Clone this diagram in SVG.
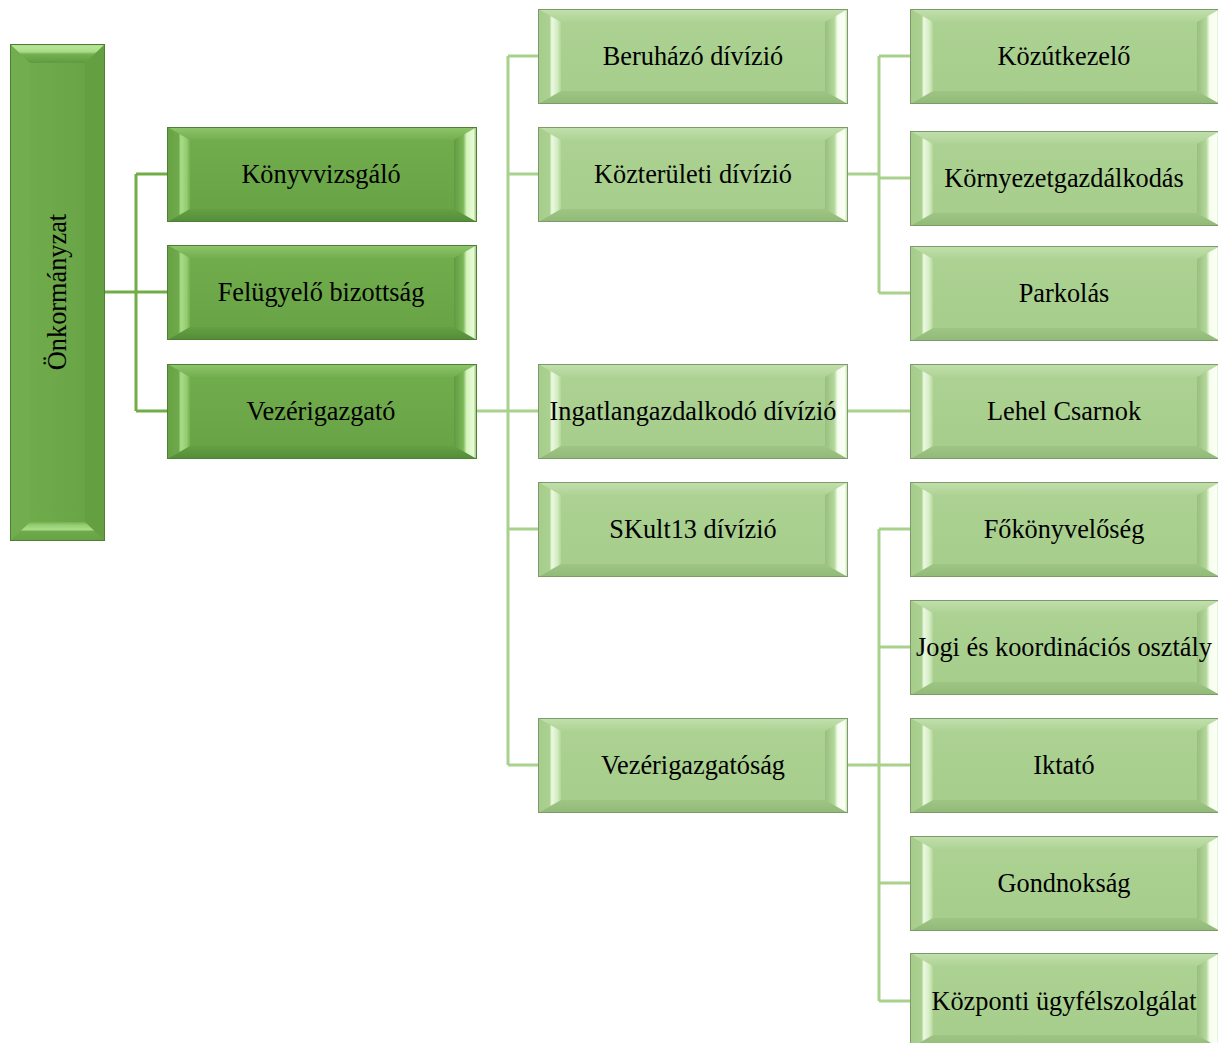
<svg xmlns="http://www.w3.org/2000/svg" xmlns:xlink="http://www.w3.org/1999/xlink" width="1218" height="1043" viewBox="0 0 1218 1043">
<style>
text{font-family:"Liberation Serif","Times New Roman",serif;font-size:26.3px;fill:#000;text-anchor:middle}
.c1{fill:none;stroke:#70AD47;stroke-width:3}
.c2{fill:none;stroke:#A9D18E;stroke-width:3}
</style>
<defs>
<linearGradient id="dFace" x1="0" y1="0" x2="0" y2="1"><stop offset="0" stop-color="#72ae4e"/><stop offset="1" stop-color="#67a244"/></linearGradient>
<linearGradient id="dTop" x1="0" y1="0" x2="0" y2="1"><stop offset="0" stop-color="#8fc66d"/><stop offset="1" stop-color="#73ae4f"/></linearGradient>
<linearGradient id="dBot" x1="0" y1="0" x2="0" y2="1"><stop offset="0" stop-color="#64a043"/><stop offset="1" stop-color="#548c39"/></linearGradient>
<linearGradient id="dLeft" x1="0" y1="0" x2="1" y2="0"><stop offset="0" stop-color="#67a145"/><stop offset="0.5" stop-color="#6ea94b"/><stop offset="0.6" stop-color="#a8de86"/><stop offset="0.85" stop-color="#95cc72"/><stop offset="1" stop-color="#75b050"/></linearGradient>
<linearGradient id="dRight" x1="0" y1="0" x2="1" y2="0"><stop offset="0" stop-color="#609b42"/><stop offset="0.4" stop-color="#7cb657"/><stop offset="0.55" stop-color="#d6f4be"/><stop offset="0.85" stop-color="#e8fbd6"/><stop offset="1" stop-color="#7cb458"/></linearGradient>
<linearGradient id="oTop" x1="0" y1="0" x2="1" y2="0"><stop offset="0" stop-color="#5f9a41"/><stop offset="0.45" stop-color="#74b050"/><stop offset="0.6" stop-color="#a9dd88"/><stop offset="0.9" stop-color="#b8e69a"/><stop offset="1" stop-color="#82bc5e"/></linearGradient>
<linearGradient id="lFace" x1="0" y1="0" x2="0" y2="1"><stop offset="0" stop-color="#add293"/><stop offset="1" stop-color="#a6cd8c"/></linearGradient>
<linearGradient id="lTop" x1="0" y1="0" x2="0" y2="1"><stop offset="0" stop-color="#c2e0ad"/><stop offset="1" stop-color="#aed395"/></linearGradient>
<linearGradient id="lBot" x1="0" y1="0" x2="0" y2="1"><stop offset="0" stop-color="#9ec583"/><stop offset="1" stop-color="#91b977"/></linearGradient>
<linearGradient id="lLeft" x1="0" y1="0" x2="1" y2="0"><stop offset="0" stop-color="#a5cc8b"/><stop offset="0.5" stop-color="#abd191"/><stop offset="0.6" stop-color="#ecf9e2"/><stop offset="0.85" stop-color="#d2ebc1"/><stop offset="1" stop-color="#b2d699"/></linearGradient>
<linearGradient id="lRight" x1="0" y1="0" x2="1" y2="0"><stop offset="0" stop-color="#98bf7e"/><stop offset="0.4" stop-color="#b3d79b"/><stop offset="0.55" stop-color="#f5fded"/><stop offset="0.85" stop-color="#fbfff5"/><stop offset="1" stop-color="#b6d89f"/></linearGradient>
<symbol id="boxD" viewBox="0 0 310 95" width="310" height="95" overflow="visible">
<rect x="0" y="0" width="310" height="95" fill="url(#dFace)"/>
<polygon points="0,0 310,0 287,13 23,13" fill="url(#dTop)"/>
<polygon points="0,95 310,95 287,82 23,82" fill="url(#dBot)"/>
<polygon points="0,0 23,13 23,82 0,95" fill="url(#dLeft)"/>
<polygon points="287,13 310,0 310,95 287,82" fill="url(#dRight)"/>
<rect x="0.5" y="0.5" width="309" height="94" fill="none" stroke="#4f7f35" stroke-width="1"/>
</symbol>
<symbol id="boxL" viewBox="0 0 310 95" width="310" height="95" overflow="visible">
<rect x="0" y="0" width="310" height="95" fill="url(#lFace)"/>
<polygon points="0,0 310,0 287,13 23,13" fill="url(#lTop)"/>
<polygon points="0,95 310,95 287,82 23,82" fill="url(#lBot)"/>
<polygon points="0,0 23,13 23,82 0,95" fill="url(#lLeft)"/>
<polygon points="287,13 310,0 310,95 287,82" fill="url(#lRight)"/>
<rect x="0.5" y="0.5" width="309" height="94" fill="none" stroke="#7d9a6a" stroke-width="1"/>
</symbol>
</defs>
<rect width="1218" height="1043" fill="#fff"/>

<g id="connectors">
<path class="c1" d="M105,292H136M136,174V411M136,174H167M136,292H167M136,411H167"/>
<path class="c2" d="M476,411H508M508,56V765M508,56H538M508,174H538M508,411H538M508,529H538M508,765H538"/>
<path class="c2" d="M848,174H879M879,56V293M879,56H910M879,178H910M879,293H910"/>
<path class="c2" d="M848,411H910"/>
<path class="c2" d="M848,765H879M879,529V1001M879,529H910M879,647H910M879,765H910M879,883H910M879,1001H910"/>
</g>

<g id="onkormanyzat">
<g transform="translate(10,541) rotate(-90)">
<rect x="0" y="0" width="497" height="95" fill="url(#dFace)"/>
<polygon points="0,0 497,0 478,20 19,20" fill="#72ae4f"/>
<polygon points="0,95 497,95 478,75 19,75" fill="#64a042"/>
<polygon points="0,0 19,20 19,75 0,95" fill="url(#dLeft)"/>
<polygon points="478,20 497,0 497,95 478,75" fill="url(#oTop)"/>
<rect x="0.5" y="0.5" width="496" height="94" fill="none" stroke="#4f7f35" stroke-width="1"/>
</g>
<text transform="translate(66,292) rotate(-90)">Önkormányzat</text>
</g>

<g id="konyvvizsgalo"><use xlink:href="#boxD" x="167" y="127"/><text x="321" y="183">Könyvvizsgáló</text></g>
<g id="felugyelo"><use xlink:href="#boxD" x="167" y="245"/><text x="321" y="301">Felügyelő bizottság</text></g>
<g id="vezerigazgato"><use xlink:href="#boxD" x="167" y="364"/><text x="321" y="420">Vezérigazgató</text></g>

<g id="beruhazo"><use xlink:href="#boxL" x="538" y="9"/><text x="693" y="65">Beruházó dívízió</text></g>
<g id="kozteruleti"><use xlink:href="#boxL" x="538" y="127"/><text x="693" y="183">Közterületi dívízió</text></g>
<g id="ingatlan"><use xlink:href="#boxL" x="538" y="364"/><text x="693" y="420">Ingatlangazdalkodó dívízió</text></g>
<g id="skult"><use xlink:href="#boxL" x="538" y="482"/><text x="693" y="538">SKult13 dívízió</text></g>
<g id="vezerigazgatosag"><use xlink:href="#boxL" x="538" y="718"/><text x="693" y="774">Vezérigazgatóság</text></g>

<g id="kozutkezelo"><use xlink:href="#boxL" x="910" y="9"/><text x="1064" y="65">Közútkezelő</text></g>
<g id="kornyezet"><use xlink:href="#boxL" x="910" y="131"/><text x="1064" y="187">Környezetgazdálkodás</text></g>
<g id="parkolas"><use xlink:href="#boxL" x="910" y="246"/><text x="1064" y="302">Parkolás</text></g>
<g id="lehel"><use xlink:href="#boxL" x="910" y="364"/><text x="1064" y="420">Lehel Csarnok</text></g>
<g id="fokonyveloseg"><use xlink:href="#boxL" x="910" y="482"/><text x="1064" y="538">Főkönyvelőség</text></g>
<g id="jogi"><use xlink:href="#boxL" x="910" y="600"/><text x="1064" y="656">Jogi és koordinációs osztály</text></g>
<g id="iktato"><use xlink:href="#boxL" x="910" y="718"/><text x="1064" y="774">Iktató</text></g>
<g id="gondnoksag"><use xlink:href="#boxL" x="910" y="836"/><text x="1064" y="892">Gondnokság</text></g>
<g id="kozponti"><use xlink:href="#boxL" x="910" y="953"/><text x="1064" y="1010">Központi ügyfélszolgálat</text></g>
</svg>
